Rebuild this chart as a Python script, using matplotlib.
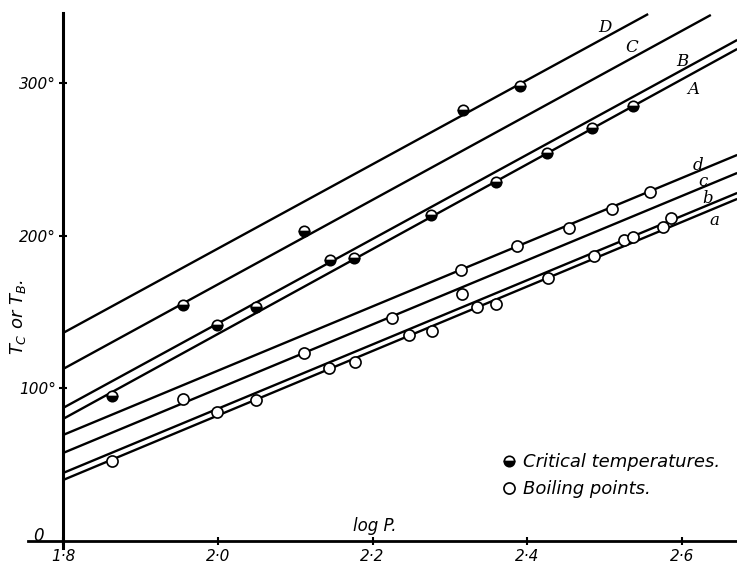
import matplotlib
matplotlib.use("Agg")
import matplotlib.pyplot as plt
import numpy as np

# straight lines (log P, T) at both ends
line_names = ["D", "C", "B", "A", "d", "c", "b", "a"]
line_x0 = [1.8, 1.8, 1.8, 1.8, 1.8, 1.8, 1.8, 1.8]
line_x1 = [2.556, 2.637, 2.671, 2.671, 2.671, 2.671, 2.671, 2.671]
line_t0 = [136.2, 112.6, 87.1, 79.9, 69.4, 57.6, 44.5, 39.9]
line_t1 = [345.1, 344.5, 328.1, 322.2, 252.8, 241.0, 227.9, 224.0]

# critical temperatures (half filled markers)
crit_logp = [1.863, 1.955, 1.999, 2.049, 2.111, 2.145, 2.176, 2.275, 2.317,
             2.390, 2.359, 2.425, 2.484, 2.537]
crit_t = [95.0, 154.6, 141.5, 153.2, 203.0, 184.0, 185.3, 213.5, 282.3,
          298.0, 235.1, 254.1, 270.5, 284.9]

# boiling points (open circles)
boil_logp = [1.863, 1.955, 1.999, 2.049, 2.111, 2.144, 2.177, 2.225, 2.247,
             2.277, 2.314, 2.315, 2.335, 2.359, 2.387, 2.427, 2.454, 2.486,
             2.509, 2.525, 2.536, 2.558, 2.575, 2.585]
boil_t = [52.4, 93.0, 84.5, 92.3, 123.1, 113.3, 117.2, 146.0, 134.9,
          137.5, 177.5, 161.8, 153.2, 155.2, 193.2, 172.2, 205.0, 186.6,
          217.4, 197.1, 199.1, 228.6, 205.6, 211.5]

x_ticks = [1.8, 2.0, 2.2, 2.4, 2.6]
x_ticklabels = ["1·8", "2·0", "2·2", "2·4", "2·6"]
y_ticks = [100, 200, 300]
y_ticklabels = ["100°", "200°", "300°"]

# where the letters sit next to their lines
label_pos = {"D": (2.500, 336.0), "C": (2.535, 322.9), "B": (2.600, 313.7),
             "A": (2.614, 295.4), "d": (2.620, 246.2), "c": (2.627, 235.1),
             "b": (2.633, 224.6), "a": (2.642, 210.2)}

fig = plt.figure(figsize=(7.37, 5.66), dpi=100)
ax = fig.add_axes([0, 0, 1, 1])
ax.set_xlim(1.7186, 2.6708)
ax.set_ylim(-16.4, 354.3)

for i in range(len(line_names)):
    ax.plot([line_x0[i], line_x1[i]], [line_t0[i], line_t1[i]], color="black",
            lw=1.7, solid_capstyle="butt")
    lx, ly = label_pos[line_names[i]]
    ax.text(lx, ly, line_names[i], fontsize=12, family="DejaVu Serif",
            style="italic", ha="center", va="center")

ax.plot(crit_logp, crit_t, ls="none", marker="o", ms=7.5, fillstyle="bottom",
        markerfacecolor="black", markerfacecoloralt="white",
        markeredgecolor="black", mew=1.2, label="Critical temperatures.")
ax.plot(boil_logp, boil_t, ls="none", marker="o", ms=8, markerfacecolor="white",
        markeredgecolor="black", mew=1.2, label="Boiling points.")

for s in ["top", "right"]:
    ax.spines[s].set_visible(False)
ax.spines["left"].set_position(("data", 1.8))
ax.spines["bottom"].set_position(("data", 0))
ax.spines["left"].set_bounds(-4.5, 346)
ax.spines["bottom"].set_bounds(1.755, 2.6708)
ax.spines["left"].set_linewidth(2.2)
ax.spines["bottom"].set_linewidth(2.0)

ax.set_xticks(x_ticks)
ax.set_xticklabels(x_ticklabels, fontsize=11, style="italic")
ax.set_yticks(y_ticks)
ax.set_yticklabels(y_ticklabels, fontsize=11, style="italic")
ax.tick_params(direction="inout", length=6, width=1.5, pad=2)
ax.tick_params(axis="x", pad=3)

ax.text(1.7677, 3, "0", fontsize=12, style="italic", ha="center", va="center")
ax.text(2.203, 4, "log P.", fontsize=12, style="italic", ha="center", va="bottom")
ax.text(0.025, 0.44, r"$T_C$ or $T_B$.", transform=ax.transAxes, rotation=90,
        fontsize=13, style="italic", ha="center", va="center")

ax.legend(loc="upper left", bbox_to_anchor=(0.671, 0.215), frameon=False,
          handlelength=0.6, handletextpad=0.5, labelspacing=0.5, borderpad=0,
          prop={"size": 13, "style": "italic"})

fig.savefig("out.png", dpi=100)
